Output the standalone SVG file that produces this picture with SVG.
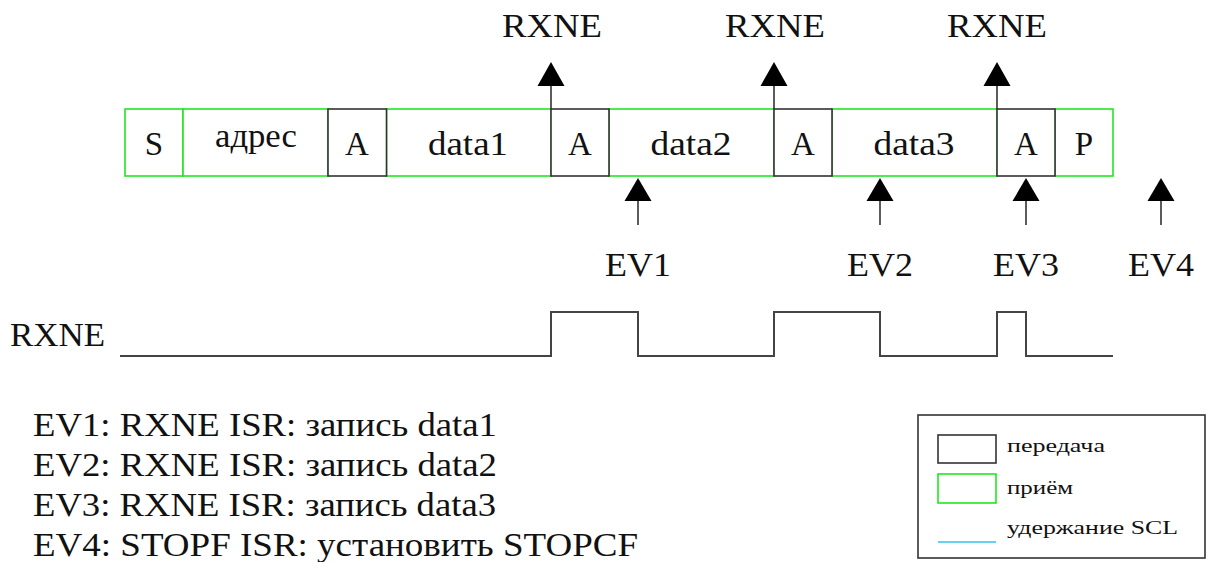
<svg xmlns="http://www.w3.org/2000/svg" width="1211" height="562" viewBox="0 0 1211 562">
<style>
text{font-family:"Liberation Serif","Times New Roman",serif;fill:#111;}
.lbl{font-size:33px;}
.mid{text-anchor:middle;}
.leg{font-size:19px;}
.rx{fill:#fff;stroke:#20e820;stroke-width:1.6;}
.tx{fill:#fff;stroke:#333;stroke-width:1.6;}
.ln{stroke:#333;stroke-width:1.6;fill:none;}
.wave{stroke:#444;stroke-width:2;fill:none;}
.head{fill:#000;}
</style>
<rect width="1211" height="562" fill="#fff"/>
<g id="frame">
  <g id="S"><rect class="rx" x="125" y="109" width="58" height="67"/><text class="lbl mid" x="154" y="155">S</text></g>
  <g id="addr"><rect class="rx" x="183" y="109" width="145" height="67"/><text class="lbl mid" x="256" y="147" textLength="82" lengthAdjust="spacingAndGlyphs">адрес</text></g>
  <g id="data1"><rect class="rx" x="386.5" y="109" width="164.5" height="67"/><text class="lbl mid" x="468" y="155" textLength="80" lengthAdjust="spacingAndGlyphs">data1</text></g>
  <g id="data2"><rect class="rx" x="609" y="109" width="165" height="67"/><text class="lbl mid" x="691" y="155" textLength="81" lengthAdjust="spacingAndGlyphs">data2</text></g>
  <g id="data3"><rect class="rx" x="832" y="109" width="165" height="67"/><text class="lbl mid" x="914" y="155" textLength="81" lengthAdjust="spacingAndGlyphs">data3</text></g>
  <g id="P"><rect class="rx" x="1055" y="109" width="58" height="67"/><text class="lbl mid" x="1084" y="155">P</text></g>
  <g id="A1"><rect class="tx" x="328" y="109" width="58.5" height="67"/><text class="lbl mid" x="357" y="155">A</text></g>
  <g id="A2"><rect class="tx" x="551" y="109" width="58" height="67"/><text class="lbl mid" x="580" y="155">A</text></g>
  <g id="A3"><rect class="tx" x="774" y="109" width="58" height="67"/><text class="lbl mid" x="803" y="155">A</text></g>
  <g id="A4"><rect class="tx" x="997" y="109" width="58" height="67"/><text class="lbl mid" x="1026" y="155">A</text></g>
</g>
<g id="connectors">
  <line class="ln" x1="551" y1="109" x2="551" y2="84"/><polygon class="head" points="551,62 537.5,86 564.5,86"/>
  <line class="ln" x1="774" y1="109" x2="774" y2="84"/><polygon class="head" points="774,62 760.5,86 787.5,86"/>
  <line class="ln" x1="997" y1="109" x2="997" y2="84"/><polygon class="head" points="997,62 983.5,86 1010.5,86"/>
  <line class="ln" x1="638" y1="225" x2="638" y2="200"/><polygon class="head" points="638,178 624.5,201 651.5,201"/>
  <line class="ln" x1="880" y1="225" x2="880" y2="200"/><polygon class="head" points="880,178 866.5,201 893.5,201"/>
  <line class="ln" x1="1026" y1="225" x2="1026" y2="200"/><polygon class="head" points="1026,178 1012.5,201 1039.5,201"/>
  <line class="ln" x1="1161" y1="225" x2="1161" y2="200"/><polygon class="head" points="1161,178 1147.5,201 1174.5,201"/>
</g>
<g id="rxne-labels">
  <text class="lbl mid" x="552" y="37" textLength="100" lengthAdjust="spacingAndGlyphs">RXNE</text>
  <text class="lbl mid" x="775" y="37" textLength="100" lengthAdjust="spacingAndGlyphs">RXNE</text>
  <text class="lbl mid" x="997" y="37" textLength="100" lengthAdjust="spacingAndGlyphs">RXNE</text>
</g>
<g id="ev-labels">
  <text class="lbl mid" x="638" y="276" textLength="66" lengthAdjust="spacingAndGlyphs">EV1</text>
  <text class="lbl mid" x="880" y="276" textLength="66" lengthAdjust="spacingAndGlyphs">EV2</text>
  <text class="lbl mid" x="1026" y="276" textLength="66" lengthAdjust="spacingAndGlyphs">EV3</text>
  <text class="lbl mid" x="1161" y="276" textLength="66" lengthAdjust="spacingAndGlyphs">EV4</text>
</g>
<g id="waveform">
  <text class="lbl" x="10" y="346" textLength="95" lengthAdjust="spacingAndGlyphs">RXNE</text>
  <polyline class="wave" points="120,356 551,356 551,312 638,312 638,356 774,356 774,312 880,312 880,356 997,356 997,312 1026,312 1026,356 1113,356"/>
</g>
<g id="notes">
  <text class="lbl" x="33" y="436" textLength="464" lengthAdjust="spacingAndGlyphs">EV1: RXNE ISR: запись data1</text>
  <text class="lbl" x="33" y="476" textLength="464" lengthAdjust="spacingAndGlyphs">EV2: RXNE ISR: запись data2</text>
  <text class="lbl" x="33" y="516" textLength="463" lengthAdjust="spacingAndGlyphs">EV3: RXNE ISR: запись data3</text>
  <text class="lbl" x="33" y="556" textLength="605" lengthAdjust="spacingAndGlyphs">EV4: STOPF ISR: установить STOPCF</text>
</g>
<g id="legend">
  <rect x="918" y="415" width="287" height="143" fill="#fff" stroke="#333" stroke-width="1.6"/>
  <rect class="tx" x="938" y="435" width="58" height="28"/>
  <text class="leg" x="1007" y="452" textLength="98" lengthAdjust="spacingAndGlyphs">передача</text>
  <rect class="rx" x="938" y="474" width="58" height="29"/>
  <text class="leg" x="1007" y="494" textLength="66" lengthAdjust="spacingAndGlyphs">приём</text>
  <line x1="938" y1="542" x2="996" y2="542" stroke="#2ec4ec" stroke-width="1.6"/>
  <text class="leg" x="1007" y="534" textLength="171" lengthAdjust="spacingAndGlyphs">удержание SCL</text>
</g>
</svg>
